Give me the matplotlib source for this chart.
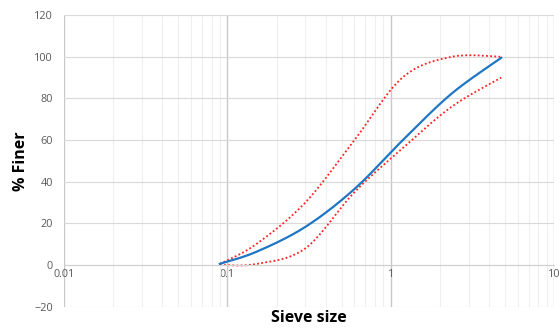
import matplotlib
matplotlib.use('Agg')
import matplotlib.pyplot as plt
import numpy as np

# sieve sizes (mm) and % finer
sieve = [0.09, 0.15, 0.3, 0.6, 1.18, 2.36, 4.75]
finer = [0.6, 6.3, 18.3, 36.5, 59.8, 82.3, 99.5]
upper = [0.5, 10, 30, 60, 90, 100, 100]
lower = [0, 0.5, 8, 35, 56, 76, 90]


def smooth(xs, ys, n=40):
    # excel style smoothing, done in log-x space
    u = np.log10(xs)
    p = np.column_stack([u, ys])
    pts = []
    for i in range(len(p) - 1):
        p0 = p[i - 1] if i > 0 else p[i]
        p3 = p[i + 2] if i + 2 < len(p) else p[i + 1]
        c1 = p[i] + (p[i + 1] - p0) / 6
        c2 = p[i + 1] - (p3 - p[i]) / 6
        t = np.linspace(0, 1, n)[:, None]
        seg = ((1 - t) ** 3 * p[i] + 3 * (1 - t) ** 2 * t * c1
               + 3 * (1 - t) * t ** 2 * c2 + t ** 3 * p[i + 1])
        pts.append(seg)
    pts = np.vstack(pts)
    return 10 ** pts[:, 0], pts[:, 1]


plt.rcParams['font.family'] = ['Open Sans', 'DejaVu Sans']
fig = plt.figure(figsize=(5.6, 3.29), dpi=100)
ax = fig.add_axes([0.1143, 0.0678, 0.8750, 0.8862])

ax.set_xscale('log')
ax.set_xlim(0.01, 10)
ax.set_ylim(-20, 120)
ax.set_yticks(range(-20, 121, 20))
ax.set_xticks([0.01, 0.1, 1, 10])
ax.set_xticklabels(['0.01', '0.1', '1', '10'])

ax.grid(True, which='major', axis='y', color='#d9d9d9', lw=0.8)
ax.grid(True, which='major', axis='x', color='#c8c8c8', lw=1.0)
ax.grid(True, which='minor', axis='x', color='#efefef', lw=0.8)
ax.set_axisbelow(True)

for s in ['top', 'right', 'left']:
    ax.spines[s].set_visible(False)
ax.spines['bottom'].set_position(('data', 0))
ax.spines['bottom'].set_color('#d0d0d0')
ax.tick_params(axis='both', which='both', length=0, labelsize=7.8, labelcolor='#595959')
ax.tick_params(axis='y', pad=8)
ax.tick_params(axis='x', pad=3)

xs, ys = smooth(sieve, upper)
ax.plot(xs, ys, color='#ff2020', lw=1.3, ls=(0, (1, 1.3)))
xs, ys = smooth(sieve, lower)
ax.plot(xs, ys, color='#ff2020', lw=1.3, ls=(0, (1, 1.3)))
xs, ys = smooth(sieve, finer)
ax.plot(xs, ys, color='#1f77c4', lw=1.6)

fig.text(0.551, 0.008, 'Sieve size', ha='center', va='bottom', fontsize=11.5, fontweight='bold')
fig.text(0.038, 0.51, '% Finer', ha='center', va='center', rotation=90, fontsize=11.5, fontweight='bold')

fig.savefig('out.png', dpi=100)
